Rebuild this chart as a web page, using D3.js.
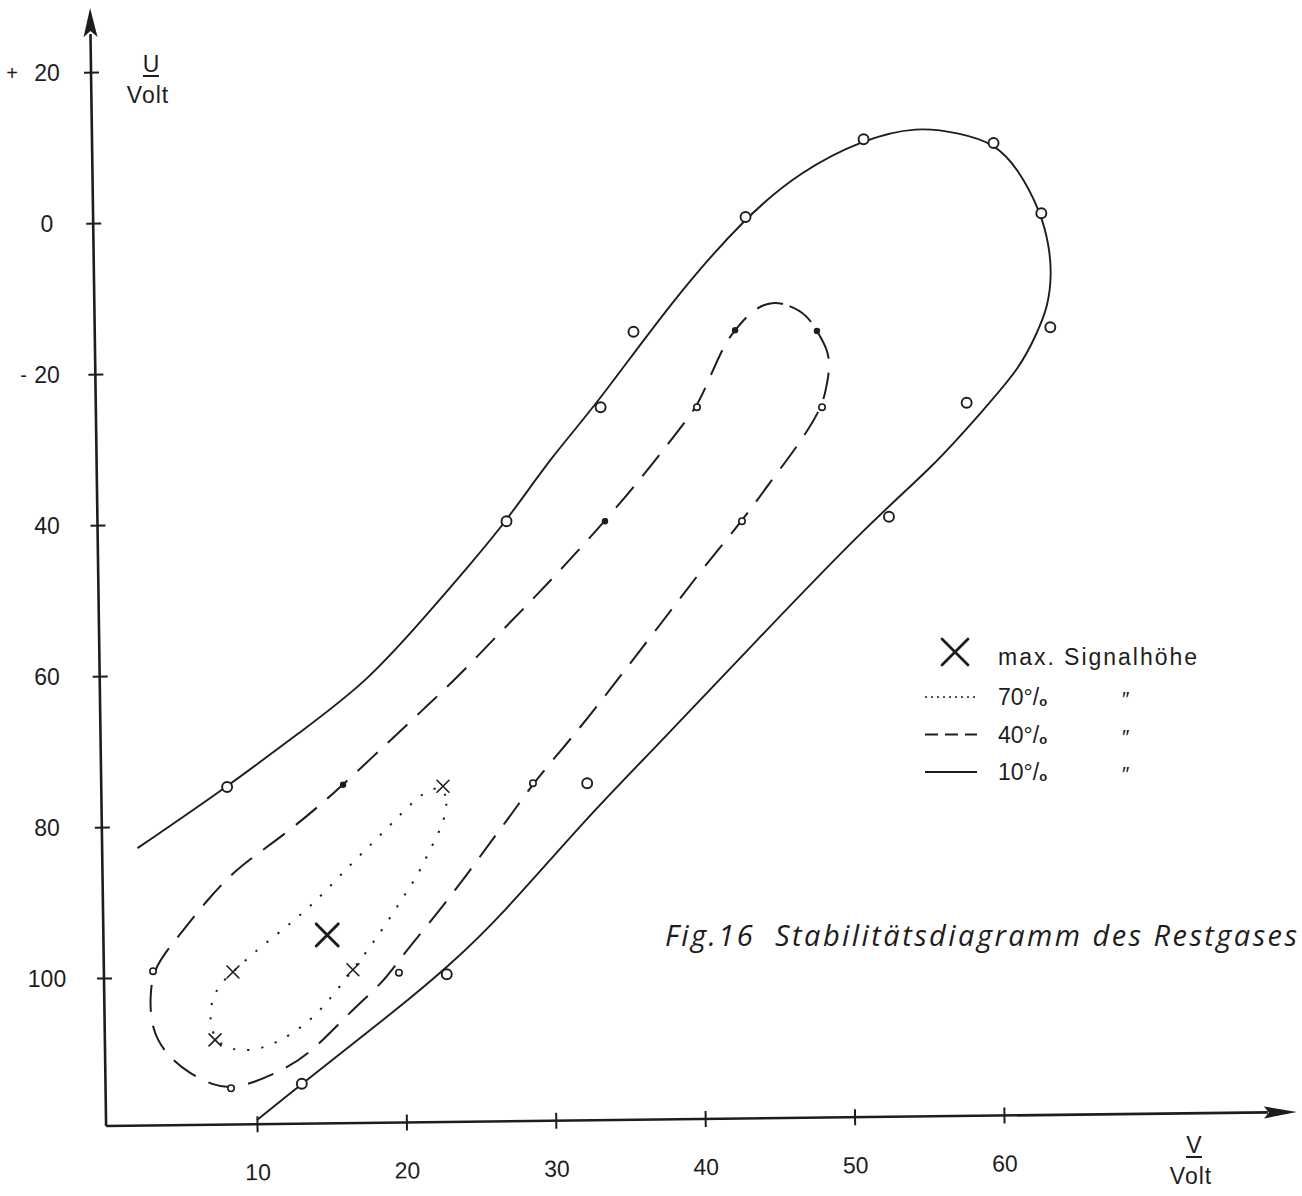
<!DOCTYPE html>
<html><head><meta charset="utf-8">
<script src="https://cdn.jsdelivr.net/npm/d3@7"></script>
<style>html,body{margin:0;padding:0;background:#fff;} svg{display:block;}</style>
</head><body>
<svg id="chart" width="1302" height="1196"></svg>
<script>
// ---------- data (V in Volt, U in Volt) ----------
const xTicks = [10, 20, 30, 40, 50, 60];
const yTicks = [20, 0, -20, -40, -60, -80, -100];

// 10 % boundary (solid, open curve)
const curve10 = [[2.0,-82.8],[8.0,-74.7],[12.9,-67.4],[17.4,-60.8],[21.8,-50.9],[24.05,-45.7],[26.7,-39.5],[29.8,-30.7],[32.6,-24.4],[37.8,-10.2],[42.7,0.8],[46.35,6.8],[50.6,11.1],[54.2,12.8],[57.05,11.9],[59.3,10.6],[60.9,7.4],[62.5,1.3],[63.0,-2.9],[63.2,-6.6],[62.95,-11.1],[62.2,-14.6],[61.1,-19.1],[58.6,-24.8],[55.25,-32.3],[51.0,-39.7],[43.2,-55.8],[36.5,-69.8],[32.1,-78.7],[26.3,-91.9],[22.9,-98.3],[19.6,-103.8],[13.0,-114.0],[10.0,-118.8]];
const points10 = [[8.0,-74.7],[13.0,-114.0],[22.7,-99.5],[32.1,-74.2],[52.3,-38.9],[57.5,-23.8],[63.1,-13.8],[62.5,1.3],[59.3,10.6],[50.6,11.1],[42.7,0.8],[35.2,-14.4],[33.0,-24.4],[26.7,-39.5]];

// 40 % boundary (dashed, closed curve)
const curve40 = [[44.34,-10.3],[45.68,-10.9],[46.82,-12.2],[47.48,-14.3],[48.22,-16.8],[48.35,-19.2],[48.09,-21.9],[47.82,-24.4],[46.35,-29.1],[44.47,-34.0],[42.46,-39.5],[39.85,-45.7],[37.64,-51.5],[35.3,-57.5],[33.43,-62.3],[31.49,-67.2],[28.47,-74.2],[27.27,-77.7],[25.66,-81.9],[23.99,-86.5],[22.11,-91.3],[20.37,-95.5],[19.37,-98.0],[18.37,-100.7],[16.22,-104.5],[13.68,-109.8],[11.74,-112.2],[9.73,-113.9],[8.26,-114.6],[7.06,-114.2],[5.52,-112.7],[4.18,-110.6],[3.3,-108.2],[2.9,-105.6],[2.84,-102.5],[3.04,-99.1],[3.98,-96.3],[5.18,-93.4],[6.65,-89.7],[8.39,-86.0],[10.2,-83.3],[12.21,-80.4],[14.22,-77.1],[15.76,-74.4],[19.1,-68.2],[21.25,-64.2],[23.45,-60.1],[25.8,-55.2],[28.28,-50.2],[30.48,-45.6],[33.29,-39.5],[36.17,-32.7],[38.11,-27.7],[39.45,-24.4],[40.32,-20.4],[41.33,-15.9],[42.0,-14.2],[43.0,-11.8]];
const points40Open = [[39.45,-24.4],[47.82,-24.4],[42.46,-39.5],[28.47,-74.2],[19.5,-99.3],[8.26,-114.6],[3.04,-99.1]];
const points40Filled = [[33.29,-39.5],[15.76,-74.4],[42.0,-14.2],[47.48,-14.3]];

// 70 % boundary (dotted, closed curve)
const curve70 = [[22.45,-74.6],[22.78,-76.8],[22.45,-79.7],[21.58,-83.0],[20.71,-86.6],[19.77,-89.3],[18.7,-92.7],[17.56,-95.9],[16.42,-98.9],[14.69,-103.3],[13.55,-105.6],[12.08,-107.8],[10.34,-109.4],[8.86,-109.7],[7.86,-109.1],[7.19,-108.2],[6.8,-105.6],[7.0,-102.5],[7.66,-100.5],[8.39,-99.2],[9.73,-96.7],[11.54,-93.9],[13.75,-90.3],[16.22,-85.0],[18.43,-80.8],[20.71,-76.0],[21.7,-75.0]];
const points70 = [[22.45,-74.6],[16.42,-98.9],[7.19,-108.2],[8.39,-99.2]];

// maximum signal height
const maxSignal = [[14.7,-94.3]];

// legend
const legendTitle = "max. Signalhöhe";
const legendLevels = ["70", "40", "10"];
const legendStyles = ["dotted", "dashed", "solid"];
const caption = "Fig.16  Stabilitätsdiagramm des Restgases";

// ---------- drawing ----------
const W = 1302, H = 1196;
const ink = "#1d1d1d";
const font = "'Liberation Sans', Arial, sans-serif";

const x = d3.scaleLinear().domain([10, 60]).range([257, 1004]);
const y = d3.scaleLinear().domain([20, -100]).range([72, 978]);

const svg = d3.select("#chart");
svg.append("rect").attr("width", W).attr("height", H).attr("fill", "#fff");

const ox = x(-0.1), oy = y(-119.6);

// X axis (slightly tilted like the scan)
const xg = svg.append("g")
  .attr("transform", `rotate(-0.67 ${ox} ${oy}) translate(0,${oy})`);
xg.call(d3.axisBottom(x).tickValues(xTicks).tickSize(9).tickFormat(d3.format("d")));
xg.select(".domain").remove();
xg.selectAll(".tick line").attr("y1", -8).attr("y2", 8).attr("stroke", ink).attr("stroke-width", 2);
xg.selectAll(".tick text").attr("y", 56).attr("dy", 0)
  .attr("font-family", font).attr("font-size", 23).attr("fill", ink);
xg.append("line").attr("x1", ox).attr("x2", 1268).attr("y1", 0).attr("y2", 0)
  .attr("stroke", ink).attr("stroke-width", 2.6);
xg.append("path").attr("d", "M1297,0 L1264,-6 L1269,0 L1264,6 Z").attr("fill", ink);

// Y axis ticks (tilted)
const yg = svg.append("g")
  .attr("transform", `rotate(-0.82 ${ox} ${oy}) translate(${ox},0)`);
yg.call(d3.axisLeft(y).tickValues(yTicks).tickSize(7).tickFormat(""));
yg.select(".domain").remove();
yg.selectAll(".tick line").attr("x1", -7).attr("x2", 8).attr("stroke", ink).attr("stroke-width", 2);
yg.append("line").attr("x1", 0).attr("x2", 0).attr("y1", oy).attr("y2", 34)
  .attr("stroke", ink).attr("stroke-width", 2.6);
yg.append("path").attr("d", "M0,8 L-7,37 L0,31 L7,37 Z").attr("fill", ink);

// Y tick labels (straight column)
const yl = svg.append("g").attr("transform", `translate(47,0)`);
yl.call(d3.axisLeft(y).tickValues(yTicks).tickSize(0).tickFormat(d => Math.abs(d)));
yl.select(".domain").remove();
yl.selectAll(".tick text").attr("x", 0).attr("dy", "0.36em").attr("text-anchor", "middle")
  .attr("font-family", font).attr("font-size", 23).attr("fill", ink);
yl.selectAll(".tick").filter(d => d !== 0 && Math.abs(d) === 20)
  .append("text").attr("x", d => d > 0 ? -29 : -20).attr("dy", "0.36em").attr("text-anchor", "end")
  .attr("font-family", font).attr("font-size", 20).attr("fill", ink)
  .text(d => d > 0 ? "+" : "-");

// axis titles
function unitLabel(cx, top, sym) {
  const g = svg.append("g").attr("font-family", font).attr("fill", ink).attr("text-anchor", "middle");
  g.append("text").attr("x", cx).attr("y", top).attr("font-size", 23).text(sym);
  g.append("line").attr("x1", cx - 8).attr("x2", cx + 8).attr("y1", top + 4).attr("y2", top + 4)
    .attr("stroke", ink).attr("stroke-width", 2);
  g.append("text").attr("x", cx - 3).attr("y", top + 31).attr("font-size", 23)
    .attr("letter-spacing", 1).text("Volt");
}
unitLabel(151, 72, "U");
unitLabel(1194, 1153, "V");

// curves (smoothed B-splines through the traced points)
const line = d3.line().x(d => x(d[0])).y(d => y(d[1]));
svg.append("path").datum(curve10)
  .attr("d", line.curve(d3.curveBasis))
  .attr("fill", "none").attr("stroke", ink).attr("stroke-width", 1.9);
svg.append("path").datum(curve40)
  .attr("d", line.curve(d3.curveBasisClosed))
  .attr("fill", "none").attr("stroke", ink).attr("stroke-width", 2)
  .attr("stroke-dasharray", "27,14");
svg.append("path").datum(curve70)
  .attr("d", line.curve(d3.curveBasisClosed))
  .attr("fill", "none").attr("stroke", ink).attr("stroke-width", 2)
  .attr("stroke-dasharray", "2.2,12");

// markers
svg.append("g").selectAll("circle").data(points10).join("circle")
  .attr("cx", d => x(d[0])).attr("cy", d => y(d[1])).attr("r", 5)
  .attr("fill", "#fff").attr("stroke", ink).attr("stroke-width", 1.9);
svg.append("g").selectAll("circle").data(points40Open).join("circle")
  .attr("cx", d => x(d[0])).attr("cy", d => y(d[1])).attr("r", 3.2)
  .attr("fill", "#fff").attr("stroke", ink).attr("stroke-width", 1.6);
svg.append("g").selectAll("circle").data(points40Filled).join("circle")
  .attr("cx", d => x(d[0])).attr("cy", d => y(d[1])).attr("r", 3.2)
  .attr("fill", ink);

function cross(g, cx, cy, h, w) {
  g.append("path").attr("d", `M${cx-h},${cy-h}L${cx+h},${cy+h}M${cx-h},${cy+h}L${cx+h},${cy-h}`)
    .attr("stroke", ink).attr("stroke-width", w).attr("fill", "none").attr("stroke-linecap", "round");
}
const cg = svg.append("g");
points70.forEach(d => cross(cg, x(d[0]), y(d[1]), 6, 1.6));
maxSignal.forEach(d => cross(cg, x(d[0]), y(d[1]), 11, 3));

// legend
const lg = svg.append("g").attr("transform", "translate(925,652)").attr("font-family", font).attr("fill", ink);
cross(lg, 30, 0, 13, 2.8);
lg.append("text").attr("x", 73).attr("y", 13).attr("font-size", 23)
  .attr("textLength", 199).attr("lengthAdjust", "spacing").text(legendTitle);
const dashFor = {dotted: "2,4", dashed: "13,7", solid: null};
legendLevels.forEach((lv, i) => {
  const yy = 45 + i * 37.5;
  lg.append("line").attr("x1", 0).attr("x2", 52).attr("y1", yy).attr("y2", yy)
    .attr("stroke", ink).attr("stroke-width", legendStyles[i] === "dotted" ? 1.4 : 2)
    .attr("stroke-dasharray", dashFor[legendStyles[i]]);
  const t = lg.append("text").attr("x", 73).attr("y", yy + 8).attr("font-size", 23);
  t.append("tspan").text(lv + "°/");
  t.append("tspan").attr("font-size", 13).attr("font-weight", "bold").attr("dy", 1).text("o");
  lg.append("text").attr("x", 196).attr("y", yy + 9).attr("font-size", 21)
    .attr("font-style", "italic").text("″");
});

// caption
svg.append("text").attr("x", 665).attr("y", 946)
  .attr("font-family", "'Open Sans', 'DejaVu Sans', sans-serif").attr("font-style", "italic")
  .attr("font-size", 29).attr("fill", ink).style("white-space", "pre")
  .attr("textLength", 632).attr("lengthAdjust", "spacing").text(caption);
</script>
</body></html>
